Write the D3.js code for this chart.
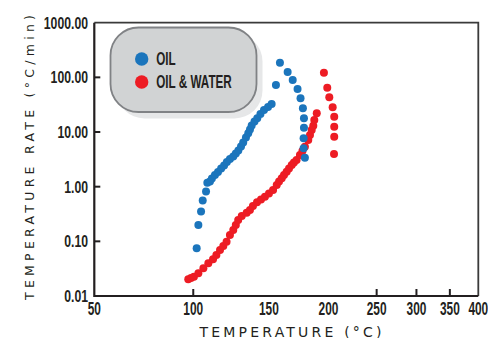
<!DOCTYPE html>
<html>
<head>
<meta charset="utf-8">
<script src="https://cdn.jsdelivr.net/npm/d3@7"></script>
<style>
  body { margin: 0; background: #fff; }
  svg { display: block; }
</style>
</head>
<body>
<svg id="chart" width="488" height="338"></svg>
<script>
// tick labels
const xTicks = [50, 100, 150, 200, 250, 300, 350, 400];
const xTickMarks = [100, 250, 300, 350];
const yTicks = [0.01, 0.1, 1, 10, 100, 1000];
const yTickLabels = ["0.01", "0.10", "1.00", "10.00", "100.00", "1000.00"];

// OIL series (temperature in C, rate in C/min)
const oilTemp = [102.0, 103.0, 104.6, 105.6, 107.6, 108.4, 110.0, 111.2, 113.1, 115.0,
  117.0, 118.9, 120.7, 122.7, 124.9, 126.6, 128.3, 130.1, 131.6, 133.5,
  135.1, 136.3, 137.5, 139.5, 141.5, 143.8, 146.4, 149.4, 152.1, 155.4,
  158.5, 164.6, 168.7, 172.7, 175.2, 177.2, 178.1, 178.1, 177.8, 177.8, 178.9];
const oilRate = [0.0746, 0.199, 0.352, 0.558, 0.817, 1.18, 1.24, 1.41, 1.64, 1.86,
  2.15, 2.44, 2.83, 3.21, 3.57, 4.05, 4.59, 5.43, 6.43, 7.94,
  9.48, 11.1, 13.2, 15.6, 17.8, 21.4, 25.3, 28.7, 32.6, 72.5,
  185, 125, 89.5, 61.2, 41.4, 27.2, 17.8, 12.0, 7.68, 5.04, 3.39];

// OIL & WATER series
const waterTemp = [97.1, 98.7, 100.4, 103.0, 106.0, 109.0, 111.9, 114.0, 116.3, 118.4,
  120.5, 122.7, 124.9, 126.6, 128.2, 130.6, 134.0, 136.3, 138.4, 141.3,
  144.2, 147.1, 150.1, 153.2, 156.0, 157.8, 159.9, 161.7, 163.8, 165.7,
  167.9, 169.7, 171.9, 174.7, 176.8, 178.9, 181.8, 183.3, 184.8, 186.2,
  187.1, 189.3, 195.8, 198.9, 200.8, 204.0, 205.5, 205.5, 205.5, 205.3];
const waterRate = [0.0202, 0.0213, 0.0225, 0.0260, 0.0321, 0.0397, 0.0469, 0.0562, 0.0695, 0.0822,
  0.0984, 0.131, 0.161, 0.199, 0.245, 0.291, 0.334, 0.374, 0.443, 0.518,
  0.582, 0.656, 0.750, 0.869, 1.07, 1.24, 1.42, 1.64, 1.88, 2.15,
  2.49, 2.77, 3.08, 3.80, 4.50, 5.38, 7.14, 8.82, 10.9, 13.0,
  16.6, 22.0, 122, 64.7, 43.2, 28.3, 19.1, 12.5, 8.2, 3.96];

const legendNames = ["OIL", "OIL & WATER"];
const colors = ["#1b75bc", "#ed1c24"];

const plotLeft = 94.3, plotRight = 478.3, plotTop = 22.7, plotBottom = 296;
const ink = "#231f20";
// no condensed face installed, so squeeze Liberation Sans horizontally
const condensedFont = "'Liberation Sans', Arial, sans-serif";

let svg = d3.select("#chart");

// x axis is reciprocal absolute temperature (Arrhenius style)
const xInv = d3.scaleLinear()
  .domain([1 / (50 + 273.15), 1 / (400 + 273.15)])
  .range([plotLeft, plotRight]);
const x = t => xInv(1 / (t + 273.15));

const y = d3.scaleLog().domain([0.01, 1000]).range([plotBottom, plotTop]);

// frame: thin top/right, heavier left/bottom
svg.append("path")
  .attr("d", `M${plotLeft},${plotTop}H${plotRight}V${plotBottom}`)
  .attr("fill", "none").attr("stroke", "#3a3a3a").attr("stroke-width", 1.8);
svg.append("path")
  .attr("d", `M${plotLeft},${plotTop}V${plotBottom}H${plotRight}`)
  .attr("fill", "none").attr("stroke", ink).attr("stroke-width", 2.2);

// inward tick marks
svg.selectAll(".ytick").data(yTicks.slice(1, -1)).enter().append("line")
  .attr("x1", plotLeft).attr("x2", plotLeft + 6)
  .attr("y1", d => y(d)).attr("y2", d => y(d))
  .attr("stroke", ink).attr("stroke-width", 2);
svg.selectAll(".xtick").data(xTickMarks).enter().append("line")
  .attr("x1", d => x(d)).attr("x2", d => x(d))
  .attr("y1", plotBottom).attr("y2", plotBottom - 7)
  .attr("stroke", ink).attr("stroke-width", 2);

// tick labels
svg.selectAll(".ylab").data(yTicks).enter().append("text")
  .attr("transform", d => `translate(88,${y(d)}) scale(0.72,1)`)
  .attr("dy", "0.36em")
  .attr("text-anchor", "end")
  .style("font-family", condensedFont).style("font-weight", "bold")
  .style("font-size", "17px").style("fill", ink)
  .text((d, i) => yTickLabels[i]);

svg.selectAll(".xlab").data(xTicks).enter().append("text")
  .attr("transform", d => `translate(${x(d)},315) scale(0.68,1)`)
  .attr("text-anchor", "middle")
  .style("font-family", condensedFont).style("font-weight", "bold")
  .style("font-size", "17.5px").style("fill", ink)
  .text(d => d);

// axis titles
svg.append("text")
  .attr("x", 199.5).attr("y", 336.5)
  .attr("textLength", 182).attr("lengthAdjust", "spacing")
  .style("font-family", "'DejaVu Sans', sans-serif")
  .style("font-size", "14px").style("fill", ink)
  .text("TEMPERATURE (°C)");

svg.append("text")
  .attr("transform", "translate(34,300) rotate(-90)")
  .attr("textLength", 285).attr("lengthAdjust", "spacing")
  .style("font-family", "'DejaVu Sans', sans-serif")
  .style("font-size", "12.5px").style("fill", ink)
  .text("TEMPERATURE RATE (°C/min)");

// legend box with soft shadow
svg.append("rect")
  .attr("x", 116.5).attr("y", 33.5).attr("width", 146).attr("height", 85)
  .attr("rx", 28).attr("fill", "#e6e7e8");
svg.append("rect")
  .attr("x", 110.5).attr("y", 27.5).attr("width", 146).attr("height", 84.5)
  .attr("rx", 28).attr("fill", "#d1d3d4")
  .attr("stroke", "#808285").attr("stroke-width", 1.8);

let legend = svg.selectAll(".leg").data(legendNames).enter().append("g")
  .attr("transform", (d, i) => `translate(141.7,${59 + i * 23})`);
legend.append("circle").attr("r", 6.7).attr("fill", (d, i) => colors[i]);
legend.append("text")
  .attr("transform", "translate(14.5,0) scale(0.65,1)")
  .attr("dy", "0.36em")
  .style("font-family", condensedFont).style("font-weight", "bold")
  .style("font-size", "18px").style("fill", ink)
  .text(d => d);

// data points: red first, blue on top
const waterData = waterTemp.map((t, i) => ({t: t, r: waterRate[i]}));
const oilData = oilTemp.map((t, i) => ({t: t, r: oilRate[i]}));

svg.append("g").selectAll("circle").data(waterData).enter().append("circle")
  .attr("cx", d => x(d.t)).attr("cy", d => y(d.r))
  .attr("r", 4).attr("fill", colors[1]);
svg.append("g").selectAll("circle").data(oilData).enter().append("circle")
  .attr("cx", d => x(d.t)).attr("cy", d => y(d.r))
  .attr("r", 4).attr("fill", colors[0]);
</script>
</body>
</html>
